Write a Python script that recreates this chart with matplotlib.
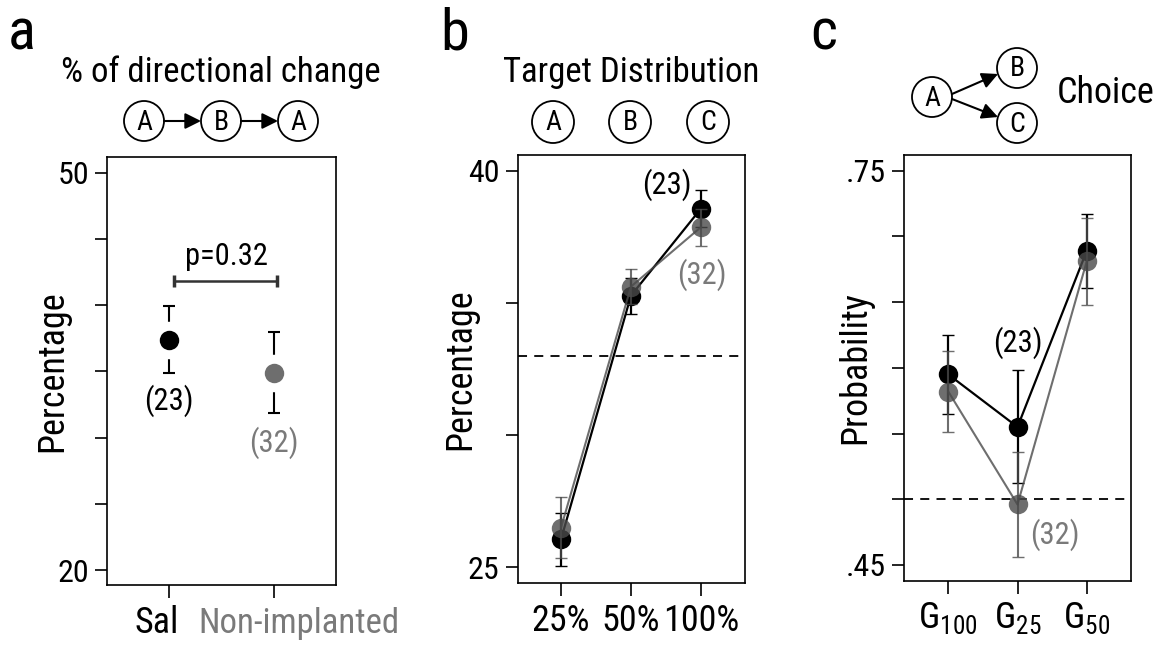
### Three-panel summary: directional change, target distribution, choice ###
import matplotlib
matplotlib.use('Agg')
import matplotlib.pyplot as plt
from matplotlib.patches import Circle

plt.rcParams['font.family'] = ['Roboto Condensed', 'Archivo Narrow', 'Liberation Sans', 'DejaVu Sans']
plt.rcParams['axes.linewidth'] = 1.2

BLACK = 'black'
GRAY = '#4a4a4a'       # drawn with alpha so overlaps look darker
TEXT_GRAY = '#7a7a7a'

# panel a
groups_a = ['Sal', 'Non-implanted']
mean_a = [37.4, 34.9]
err_a = [2.55, 3.05]
n_a = ['(23)', '(32)']
p_text = 'p=0.32'
p_height = 41.8

# panel b
targets_b = ['25%', '50%', '100%']
sal_b = [26.06, 35.28, 38.57]
sal_b_err = [1.0, 0.68, 0.7]
non_b = [26.5, 35.62, 37.87]
non_b_err = [1.16, 0.67, 0.7]
chance_b = 33.0

# panel c
gains_c = [r'$\mathregular{G_{100}}$', r'$\mathregular{G_{25}}$', r'$\mathregular{G_{50}}$']
sal_c = [0.595, 0.555, 0.689]
sal_c_err = [0.030, 0.043, 0.028]
non_c = [0.582, 0.496, 0.681]
non_c_err = [0.031, 0.040, 0.033]
chance_c = 0.50

W, H = 1160, 647
fig = plt.figure(figsize=(W / 100, H / 100), dpi=100)

# overlay in pixel coordinates for panel letters and the little diagrams
ov = fig.add_axes([0, 0, 1, 1])
ov.set_xlim(0, W)
ov.set_ylim(H, 0)
ov.axis('off')
ov.patch.set_alpha(0)


def node(x, y, letter, r=20):
    ov.add_patch(Circle((x, y), r, fill=False, lw=1.3, color=BLACK))
    ov.text(x, y + 1, letter, ha='center', va='center', fontsize=20)


def arrow(x0, y0, x1, y1):
    ov.annotate('', xy=(x1, y1), xytext=(x0, y0),
                arrowprops=dict(arrowstyle='-|>', color=BLACK, lw=1.5,
                                mutation_scale=24, shrinkA=0, shrinkB=0))


def style_axes(ax, label, label_x, xsize=26):
    ax.tick_params(direction='out', length=9, width=1.2, pad=4)
    ax.tick_params(axis='y', labelsize=23)
    ax.tick_params(axis='x', labelsize=xsize, pad=5)
    ax.set_ylabel(label, fontsize=26)
    ax.yaxis.set_label_coords(label_x, 0.5)


# ---- panel a ----
ov.text(8, 50, 'a', fontsize=42, va='baseline')
ov.text(221, 82, '% of directional change', fontsize=25, ha='center', va='baseline')
node(144, 121, 'A')
node(221, 121, 'B')
node(298, 121, 'A')
arrow(164, 121, 201, 121)
arrow(241, 121, 278, 121)

ax = fig.add_axes([107 / W, 1 - 585 / H, 229 / W, 428 / H])
xa = [1, 2]
cols = [BLACK, GRAY]
for i in range(2):
    ax.errorbar(xa[i], mean_a[i], yerr=err_a[i], color=BLACK, capsize=4,
                elinewidth=1.5, capthick=1.5, zorder=2)
    ax.plot(xa[i], mean_a[i], 'o', ms=26, color='white', zorder=3)
    ax.plot(xa[i], mean_a[i], 'o', ms=14, color=cols[i],
            alpha=1 if i == 0 else 0.8, mec='none', zorder=4)
ax.text(1, 32.8, n_a[0], fontsize=22, ha='center', va='center', color=BLACK)
ax.text(2, 29.6, n_a[1], fontsize=22, ha='center', va='center', color=TEXT_GRAY)
ax.errorbar([1.05, 2.03], [p_height, p_height], yerr=0.45, color='#333333',
            lw=1.8, capsize=0, elinewidth=2.5)
ax.text(1.55, 43.66, p_text, fontsize=22, ha='center', va='center')
ax.set_xlim(0.41, 2.59)
ax.set_ylim(18.87, 51.19)
ax.set_xticks(xa)
ax.set_xticklabels(['', ''])
# group names sit off-centre from their ticks so they do not collide
xt = ax.get_xaxis_transform()
ax.text(0.886, -0.112, groups_a[0], transform=xt, fontsize=26,
        ha='center', va='baseline', color=BLACK)
ax.text(2.233, -0.112, groups_a[1], transform=xt, fontsize=25,
        ha='center', va='baseline', color=TEXT_GRAY)
ax.set_yticks([20, 25, 30, 35, 40, 45, 50])
ax.set_yticklabels(['20', '', '', '', '', '', '50'])
style_axes(ax, 'Percentage', -0.16)

# ---- panel b ----
ov.text(440, 50, 'b', fontsize=42, va='baseline')
ov.text(631, 82, 'Target Distribution', fontsize=25, ha='center', va='baseline')
node(553, 122, 'A', 21)
node(630, 122, 'B', 21)
node(708, 122, 'C', 21)

ax = fig.add_axes([517.7 / W, 1 - 583.3 / H, 227.3 / W, 428.3 / H])
xb = [1, 2, 3]
ax.axhline(chance_b, color=BLACK, ls=(0, (5, 4)), lw=1.3)
ax.errorbar(xb, sal_b, yerr=sal_b_err, color=BLACK, capsize=4, lw=1.6,
            marker='o', ms=14, mec='none', zorder=3)
ax.errorbar(xb, non_b, yerr=non_b_err, color=GRAY, alpha=0.8, capsize=4,
            lw=1.5, marker='o', ms=14, mec='none', zorder=4)
ax.text(2.52, 39.47, '(23)', fontsize=22, ha='center', va='center', color=BLACK)
ax.text(3.01, 36.06, '(32)', fontsize=22, ha='center', va='center', color=TEXT_GRAY)
ax.set_xlim(0.38, 3.63)
ax.set_ylim(24.39, 40.6)
ax.set_xticks(xb)
ax.set_xticklabels(targets_b)
ax.set_yticks([25, 30, 35, 40])
ax.set_yticklabels(['25', '', '', '40'])
style_axes(ax, 'Percentage', -0.175, xsize=26)

# ---- panel c ----
ov.text(810, 50, 'c', fontsize=42, va='baseline')
node(932, 97, 'A')
node(1017, 68, 'B')
node(1017, 123, 'C')
arrow(952, 94, 998, 74)
arrow(952, 99, 998, 117)
ov.text(1106, 103, 'Choice', fontsize=26, ha='center', va='baseline')

ax = fig.add_axes([904 / W, 1 - 580.7 / H, 227 / W, 425.7 / H])
xc = [1, 2, 3]
ax.axhline(chance_c, color=BLACK, ls=(0, (5, 4)), lw=1.3)
ax.errorbar(xc, sal_c, yerr=sal_c_err, color=BLACK, capsize=4, lw=1.6,
            marker='o', ms=14, mec='none', zorder=3)
ax.errorbar(xc, non_c, yerr=non_c_err, color=GRAY, alpha=0.8, capsize=4,
            lw=1.5, marker='o', ms=14, mec='none', zorder=4)
ax.text(2.01, 0.619, '(23)', fontsize=22, ha='center', va='center', color=BLACK)
ax.text(2.54, 0.4728, '(32)', fontsize=22, ha='center', va='center', color=TEXT_GRAY)
ax.set_xlim(0.36, 3.64)
ax.set_ylim(0.438, 0.762)
ax.set_xticks(xc)
ax.set_xticklabels(gains_c)
ax.set_yticks([0.45, 0.50, 0.55, 0.60, 0.65, 0.70, 0.75])
ax.set_yticklabels(['.45', '', '', '', '', '', '.75'])
style_axes(ax, 'Probability', -0.137, xsize=26)

fig.savefig('out.png', dpi=100)
